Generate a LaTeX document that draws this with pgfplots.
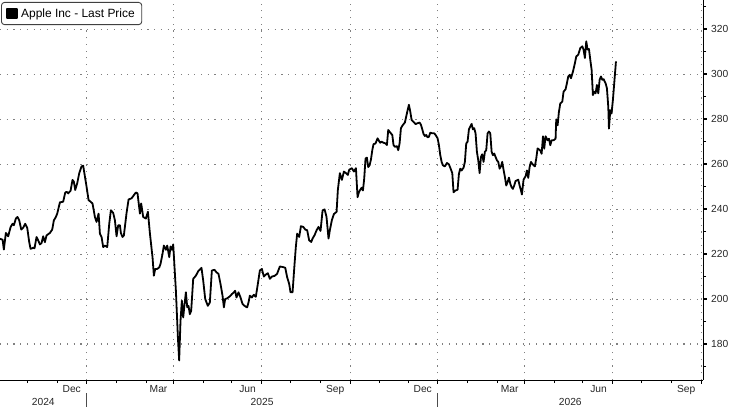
\documentclass[border=0pt]{standalone}
\usepackage{fontspec}
\setmainfont{Liberation Sans}
\usepackage{pgfplots}
\pgfplotsset{compat=1.18}

% price series, x = days since 1 Dec 2024
\pgfplotstableread{
d p
-90.1 226.8
-87.3 226.4
-86.0 222.0
-83.9 229.4
-81.5 227.9
-79.0 232.0
-76.9 233.5
-75.6 232.8
-73.5 235.8
-71.8 236.5
-70.0 235.0
-67.9 230.9
-65.9 231.7
-63.8 233.5
-61.7 231.7
-59.6 225.3
-58.2 222.3
-55.5 222.8
-54.1 222.6
-52.0 227.6
-50.3 226.1
-48.5 224.3
-46.8 224.9
-45.1 227.9
-43.3 225.3
-41.6 228.3
-38.1 229.4
-35.7 230.9
-34.0 235.0
-31.9 236.5
-30.5 238.0
-27.7 243.0
-24.3 243.3
-22.2 247.3
-20.8 247.7
-19.1 247.0
-16.6 248.2
-14.6 253.0
-13.2 252.2
-11.8 248.5
-9.7 251.5
-7.6 256.0
-5.2 259.0
-3.5 259.3
-1.4 253.7
0.0 250.0
2.1 244.0
4.2 243.3
6.2 242.5
8.7 236.5
10.4 234.3
12.5 238.0
13.9 229.1
15.6 227.6
17.3 223.1
19.1 223.8
21.5 223.1
23.6 233.5
25.3 239.5
27.7 238.3
29.5 235.0
31.2 227.9
32.9 232.8
34.7 232.8
35.7 229.4
37.4 227.6
38.8 228.3
41.6 238.3
43.7 244.3
46.8 244.8
49.2 246.2
51.3 247.4
53.0 247.0
55.5 238.0
56.8 242.5
58.9 236.5
61.7 235.8
63.8 238.8
65.9 229.1
68.6 218.6
70.0 210.4
71.4 213.4
73.5 213.4
75.6 214.1
76.9 215.6
79.0 220.1
80.4 223.8
82.5 221.9
83.9 223.8
86.0 218.6
87.3 223.4
88.7 221.9
90.1 224.3
92.9 203.7
95.0 182.8
96.3 172.7
97.7 190.3
99.1 199.3
100.5 191.8
101.9 197.8
103.3 203.0
104.7 196.3
106.0 197.0
107.4 193.3
108.8 194.8
110.9 209.0
113.7 210.4
116.1 212.4
119.5 213.9
121.3 208.2
123.4 200.0
126.1 197.0
128.2 198.5
130.3 212.7
133.0 213.0
135.1 211.9
137.2 211.2
139.3 206.7
141.4 201.5
142.8 196.3
144.1 200.0
146.2 200.3
149.0 201.2
151.1 202.2
153.2 203.0
154.5 203.7
155.9 200.7
158.0 203.0
160.1 200.7
162.2 197.8
164.2 197.0
165.6 196.6
167.0 196.3
168.4 198.5
169.8 201.5
171.9 200.7
173.9 201.9
176.0 201.0
178.1 206.7
180.2 212.7
182.3 213.4
184.4 210.0
186.5 210.9
188.5 211.5
190.6 209.0
192.7 210.0
195.5 210.3
198.1 211.2
201.0 214.5
204.5 214.2
206.6 213.9
208.6 209.7
210.7 206.7
212.1 203.0
214.2 203.0
216.3 215.7
217.6 223.1
219.0 229.1
221.1 227.6
222.9 232.4
225.3 232.1
227.4 230.9
229.4 230.6
231.5 226.1
233.6 225.4
235.0 226.9
237.1 228.4
239.2 230.6
241.2 232.1
243.3 230.3
245.4 239.3
247.5 239.9
249.5 236.6
251.6 226.9
253.0 230.6
255.1 235.1
257.2 237.8
260.0 238.8
261.3 248.5
263.4 256.0
265.5 253.0
267.6 256.7
269.7 256.0
271.7 255.2
273.1 257.5
275.9 258.2
278.0 256.7
280.1 258.2
281.8 245.3
283.2 247.5
284.6 248.6
286.0 249.5
287.4 248.3
288.7 253.5
290.1 262.5
291.5 262.9
292.9 258.7
294.3 259.5
295.7 262.0
297.1 266.2
298.4 268.9
300.5 269.2
302.6 271.5
304.0 270.4
305.4 269.5
306.8 270.0
308.8 269.5
310.9 269.2
312.3 268.5
313.7 275.2
315.8 274.0
317.9 273.0
319.2 268.5
320.6 267.7
322.7 268.0
324.1 266.2
325.5 269.2
326.9 276.0
328.3 277.0
329.6 277.8
331.0 278.5
332.4 281.2
333.8 283.9
335.2 286.4
336.6 283.4
338.0 279.7
339.4 279.0
340.7 278.5
342.1 277.8
344.2 278.2
346.3 278.5
347.7 277.5
349.1 275.5
350.4 273.4
351.8 272.5
353.2 273.0
354.6 271.9
356.0 272.2
357.4 274.0
359.5 273.7
361.5 273.7
362.9 273.0
365.0 271.5
366.4 268.5
367.8 264.0
369.2 261.0
370.5 259.5
372.6 259.0
374.7 260.5
376.8 259.9
378.2 258.4
380.3 256.0
381.6 247.5
383.7 248.3
385.8 248.6
387.2 255.7
388.6 258.0
390.0 257.2
392.0 258.4
393.4 261.0
394.8 269.2
396.2 270.0
397.6 275.5
399.0 276.7
400.4 277.9
401.7 275.5
403.1 276.0
404.5 273.7
405.9 265.5
407.3 261.7
408.7 256.0
410.1 263.2
411.4 264.4
412.8 261.0
414.2 265.5
415.6 266.2
417.0 273.7
418.4 274.5
419.8 273.7
421.2 265.5
422.5 264.0
423.9 264.7
425.3 263.2
426.7 261.7
428.1 261.0
429.5 258.0
430.9 259.0
432.2 261.0
433.6 257.5
435.0 254.3
436.4 250.5
437.8 252.0
439.2 254.0
440.6 251.3
441.9 249.8
443.3 249.0
444.7 250.5
446.1 252.5
447.5 252.8
448.9 253.1
450.3 250.5
451.7 248.3
452.7 246.5
454.4 253.1
456.5 254.6
457.9 257.2
459.3 253.9
460.7 258.7
462.1 261.0
463.4 260.2
464.8 259.5
466.2 259.0
467.6 262.5
469.0 267.0
471.8 266.1
473.2 264.6
474.6 272.4
475.9 266.9
477.3 272.4
479.4 270.6
480.8 271.3
482.2 268.4
483.6 270.6
485.6 270.6
487.7 271.3
488.4 279.9
489.8 277.3
491.2 283.3
492.6 287.0
494.7 287.8
496.0 292.2
498.1 293.3
499.5 296.0
500.9 299.0
502.3 299.7
503.7 298.2
505.8 301.2
507.8 304.9
509.2 307.9
511.3 308.7
513.4 311.6
515.5 312.4
516.8 310.9
518.2 307.2
519.6 314.6
521.0 310.9
522.4 311.2
523.8 306.4
525.2 301.9
526.5 290.7
527.9 292.2
529.3 291.5
530.7 295.2
532.1 291.5
533.5 297.5
534.9 299.0
536.3 297.5
537.6 297.8
539.7 296.0
541.1 293.7
542.5 285.5
543.2 275.8
544.6 284.0
545.9 282.5
547.3 288.5
548.7 296.0
550.5 305.7
}\aapl

\begin{document}
\begin{tikzpicture}
\path[use as bounding box] (0,-27bp) rectangle (729bp,380bp);
\begin{axis}[
  at={(0,0)}, anchor=south west,
  scale only axis, width=703bp, height=380bp,
  xmin=-90, xmax=641, ymin=164, ymax=333,
  clip=false,
  axis x line*=bottom, axis y line*=right,
  axis line style={black, line width=1bp},
  tick align=outside,
  major tick length=3.5bp, minor tick length=3bp,
  tick style={black, line width=0.8bp},
  every major y tick/.style={black, line width=1.8bp},
  xtick={0,90,182,274,365,455,547,639},
  xticklabels={Dec,Mar,Jun,Sep,Dec,Mar,Jun,Sep},
  minor xtick={-61,-30,31,62,121,151,212,243,304,335,396,427,486,516,577,608},
  ytick={180,200,...,320},
  minor ytick={170,190,...,330},
  yticklabel pos=right,
  /pgf/number format/assume math mode=true,
  ticklabel style={font=\fontsize{10.3}{12}\selectfont, text=black!85},
  xticklabel style={anchor=north east, inner sep=0pt, xshift=-5.5bp, yshift=-2bp},
  yticklabel style={anchor=west, inner sep=0pt, xshift=4.5bp},
  grid=major,
  major grid style={black!50, line width=1.1bp, dash pattern=on 1.1bp off 5.6bp},
  legend style={at={(0,1)}, anchor=north west, xshift=1bp, yshift=-2bp,
    draw=black!75, line width=0.9bp, rounded corners=3bp, fill=white,
    font=\fontsize{12}{14}\selectfont, inner xsep=5bp, inner ysep=4bp,
    column sep=1.5bp, row sep=0pt},
  legend cell align=left,
  legend image code/.code={\fill[black, sharp corners] (0bp,-4.7bp) rectangle (9.4bp,4.7bp);},
]
\addplot[black, line width=1.8bp, line join=round] table[x=d, y=p] {\aapl};
\addlegendentry{Apple Inc - Last Price}

% year row under the month labels
\draw[black!70, line width=0.8bp] ([yshift=-13bp]axis cs:0,164) -- ([yshift=-27bp]axis cs:0,164);
\draw[black!70, line width=0.8bp] ([yshift=-13bp]axis cs:365,164) -- ([yshift=-27bp]axis cs:365,164);
\node[font=\fontsize{10.3}{12}\selectfont, text=black!85] at ([yshift=-22bp]axis cs:-45,164) {2024};
\node[font=\fontsize{10.3}{12}\selectfont, text=black!85] at ([yshift=-22bp]axis cs:182.5,164) {2025};
\node[font=\fontsize{10.3}{12}\selectfont, text=black!85] at ([yshift=-22bp]axis cs:503,164) {2026};
\end{axis}
\end{tikzpicture}
\end{document}
